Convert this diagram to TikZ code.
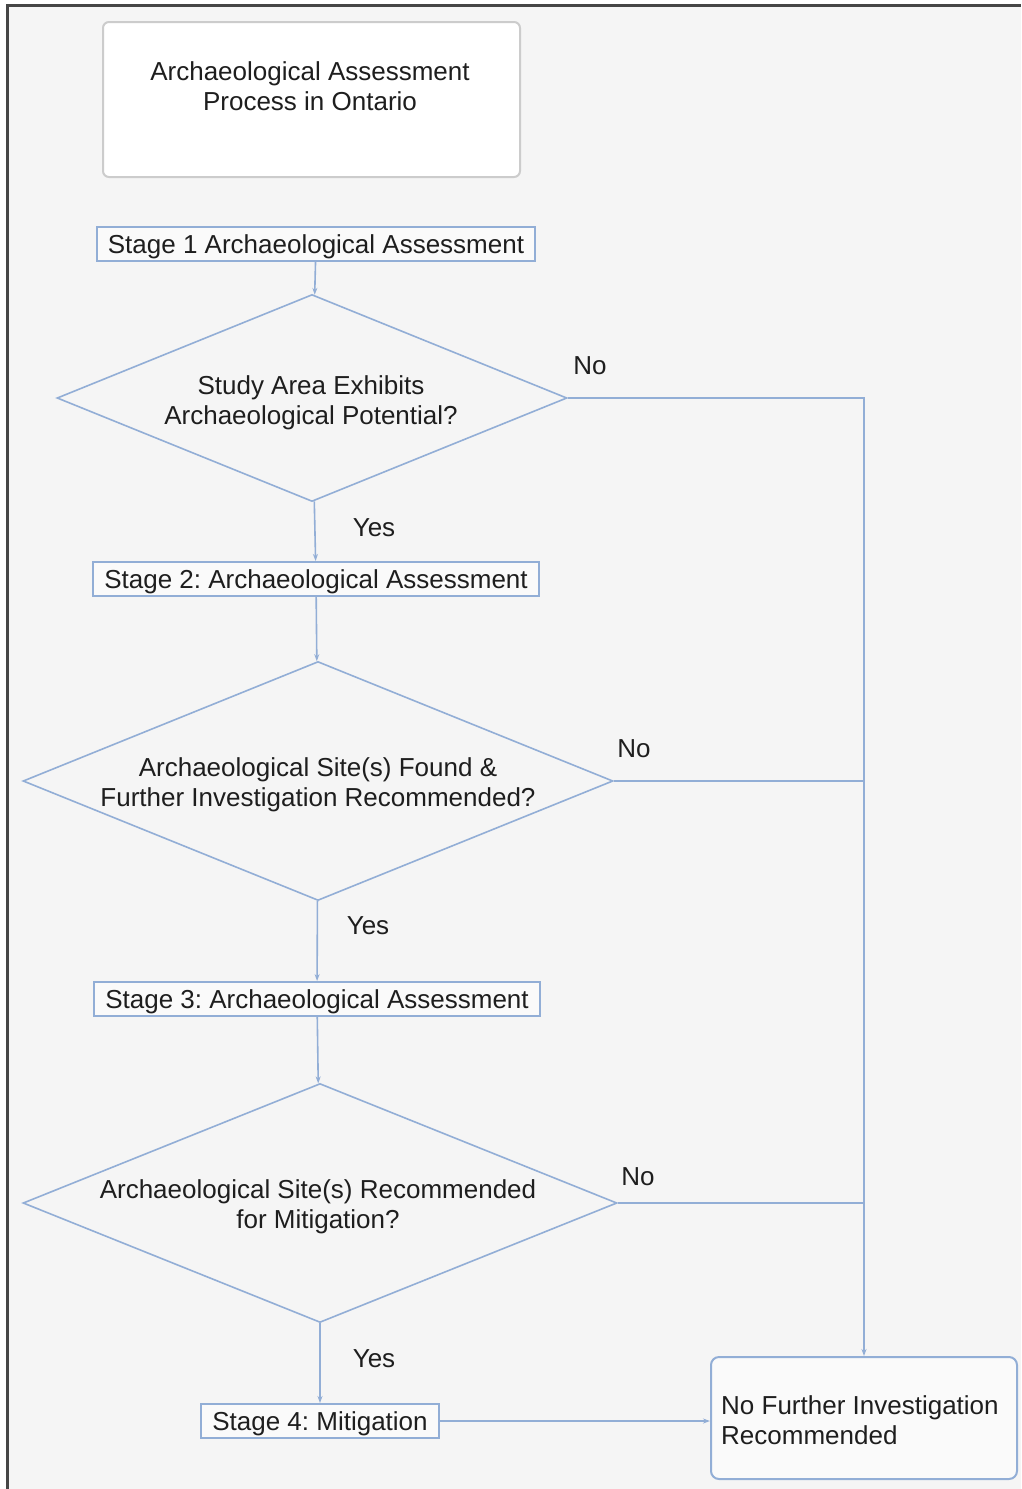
\documentclass[tikz,border=0pt]{standalone}
\usepackage{fontspec}
\setmainfont{Liberation Sans}
\usetikzlibrary{arrows.meta, shapes.geometric}
\frenchspacing

\definecolor{flowblue}{RGB}{146,174,214}
\definecolor{pagegrey}{RGB}{245,245,245}
\definecolor{framegrey}{RGB}{70,70,70}
\definecolor{inkgrey}{RGB}{30,30,30}

\tikzset{
  txt/.style={font=\fontsize{26}{30}\selectfont, text=inkgrey},
  stagebox/.style={txt, draw=flowblue, line width=2pt, fill=pagegrey!50!white,
    inner xsep=11pt, inner ysep=0pt, minimum height=34pt, text height=22pt, text depth=3pt},
  decision/.style={diamond, draw=flowblue, line width=1.6pt, inner sep=0pt},
  conn/.style={draw=flowblue, line width=1.6pt},
  arr/.style={conn, -{Stealth[length=7pt,width=5pt]}},
}

\begin{document}
\begin{tikzpicture}[x=1pt, y=-1pt]
\useasboundingbox (0,0) rectangle (1021,1489);
\fill[white] (0,0) rectangle (1021,1489);
\fill[pagegrey] (7,5) rectangle (1021,1489);
\draw[framegrey, line width=3pt] (7,1489) -- (7,5) -- (1021,5);

% title
\node[draw=gray!40, line width=2pt, rounded corners=6pt, fill=white,
  minimum width=417pt, minimum height=155pt] (T) at (311.5,99.5) {};
\node[txt, align=center] (Tt) at (310,86) {Archaeological Assessment\\Process in Ontario};

% stages
\node[stagebox] (S1) at (316,244)  {Stage 1 Archaeological Assessment};
\node[stagebox] (S2) at (316,579)  {Stage 2: Archaeological Assessment};
\node[stagebox] (S3) at (317,999)  {Stage 3: Archaeological Assessment};
\node[stagebox] (S4) at (320,1421) {Stage 4: Mitigation};

% decisions
\node[decision, minimum width=510pt, minimum height=207pt] (D1) at (312,398)  {};
\node[decision, minimum width=590pt, minimum height=239pt] (D2) at (318,781)  {};
\node[decision, minimum width=594pt, minimum height=239pt] (D3) at (320,1203) {};
\node[txt, align=center] (D1t) at (311,403)  {Study Area Exhibits\\Archaeological Potential?};
\node[txt, align=center] (D2t) at (318,785)  {Archaeological Site(s) Found \&\\Further Investigation Recommended?};
\node[txt, align=center] (D3t) at (318,1207) {Archaeological Site(s) Recommended\\for Mitigation?};

% end
\node[draw=flowblue, line width=2pt, rounded corners=8pt, fill=pagegrey!50!white,
  minimum width=306pt, minimum height=122pt] (F) at (864,1418) {};
\node[txt, align=left, anchor=west, inner sep=0pt] (Ft) at (721,1420) {No Further Investigation\\Recommended};

% answers
\node[txt] (N1) at (590,366)  {No};
\node[txt] (N2) at (634,749)  {No};
\node[txt] (N3) at (638,1177) {No};
\node[txt] (Y1) at (374,528)  {Yes};
\node[txt] (Y2) at (368,926)  {Yes};
\node[txt] (Y3) at (374,1359) {Yes};

% connectors
\draw[arr] (S1) -- (D1);
\draw[arr] (D1) -- (S2);
\draw[arr] (S2) -- (D2);
\draw[arr] (D2) -- (S3);
\draw[arr] (S3) -- (D3);
\draw[arr] (D3) -- (S4);
\draw[arr] (D1.east) -| (F.north);
\draw[conn] (D2.east) -- (D2.east -| F.north);
\draw[conn] (D3.east) -- (D3.east -| F.north);
\draw[arr] (S4.east) -- (S4.east -| F.west);
\end{tikzpicture}
\end{document}
